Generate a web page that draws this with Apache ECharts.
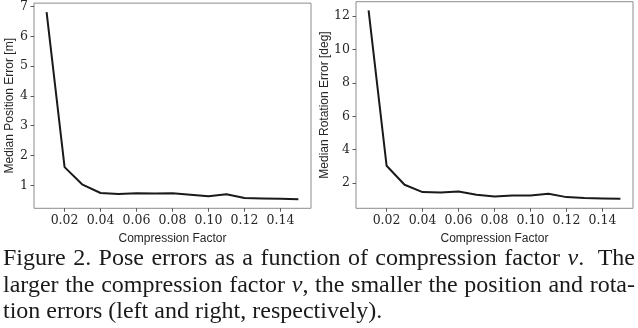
<!DOCTYPE html>
<html><head><meta charset="utf-8">
<script src="https://cdn.jsdelivr.net/npm/echarts@6/dist/echarts.min.js"></script>
<style>html,body{margin:0;padding:0;background:#fff}#c{width:638px;height:328px}</style>
</head><body><div id="c"></div>
<script>
const xValues = [0.01,0.02,0.03,0.04,0.05,0.06,0.07,0.08,0.09,0.10,0.11,0.12,0.13,0.14,0.15];
const positionError = [6.81,1.61,1.02,0.74,0.71,0.73,0.72,0.73,0.68,0.63,0.70,0.57,0.56,0.55,0.53];
const rotationError = [12.34,3.04,1.90,1.46,1.44,1.50,1.30,1.20,1.26,1.26,1.36,1.16,1.10,1.08,1.06];
const xTicks = [0.02,0.04,0.06,0.08,0.10,0.12,0.14];
const posTicks = [1,2,3,4,5,6,7];
const rotTicks = [2,4,6,8,10,12];
const xLabel = 'Compression Factor';
const posLabel = 'Median Position Error [m]';
const rotLabel = 'Median Rotation Error [deg]';
const captionLines = [
  'Figure 2. Pose errors as a function of compression factor ν.  The',
  'larger the compression factor ν, the smaller the position and rota-',
  'tion errors (left and right, respectively).'
];

const chart = echarts.init(document.getElementById('c'), null, {renderer:'canvas'});
const tickFont = {fontFamily:'DejaVu Serif', fontSize:12.5, color:'#262626'};
const titleFont = {fontFamily:'Liberation Sans', fontSize:12, color:'#262626'};

function xAxis(gi){
  return {type:'value', gridIndex:gi, min:0.003, max:0.157,
    axisLine:{show:false}, splitLine:{show:false},
    axisTick:{show:true, customValues:xTicks, length:3.5, lineStyle:{color:'#333', width:0.8}},
    axisLabel:Object.assign({customValues:xTicks, margin:6, formatter:v=>v.toFixed(2)}, tickFont),
    name:xLabel, nameLocation:'middle', nameGap:24, nameTextStyle:titleFont};
}
function yAxis(gi, min, max, ticks, name){
  return {type:'value', gridIndex:gi, min:min, max:max,
    axisLine:{show:false}, splitLine:{show:false},
    axisTick:{show:true, customValues:ticks, length:3.5, lineStyle:{color:'#333', width:0.8}},
    axisLabel:Object.assign({customValues:ticks, margin:6, formatter:v=>String(v)}, tickFont),
    name:name, nameLocation:'middle', nameGap: gi===0?16:24, nameTextStyle:titleFont};
}

// justified caption
const capFont = 24;
const cv = document.createElement('canvas').getContext('2d');
function segs(word){
  const out=[]; let cur='';
  for (const ch of word){ if(ch==='ν'){ if(cur) out.push([cur,false]); out.push([ch,true]); cur=''; } else cur+=ch; }
  if(cur) out.push([cur,false]);
  return out;
}
function fontStr(it){ return (it?'italic ':'')+capFont+'px "Liberation Serif"'; }
function measure(s, it){ cv.font = fontStr(it); return cv.measureText(s).width; }
const graphics = [];
function layoutLine(line, baseline, x0, x1, justify){
  const toks = line.split(' ');
  const words=[]; const extra=[]; let pending=0;
  for(const t of toks){ if(t===''){pending++; continue;} words.push(t); extra.push(pending); pending=0; }
  const spaceW = measure(' ', false);
  const ws = words.map(w=>segs(w).reduce((a,s)=>a+measure(s[0],s[1]),0));
  let total = ws.reduce((a,b)=>a+b,0);
  let gaps = [];
  for(let i=1;i<words.length;i++){ gaps.push(spaceW*(1+extra[i])); }
  let natural = total + gaps.reduce((a,b)=>a+b,0);
  let add = justify && gaps.length ? (x1-x0-natural)/gaps.length : 0;
  let x = x0;
  words.forEach((w,i)=>{
    if(i>0) x += gaps[i-1]+add;
    for(const s of segs(w)){
      graphics.push({type:'text', x:x, y:baseline, silent:true,
        style:{text:s[0], font:fontStr(s[1]), fill:'#1a1a1a', verticalAlign:'bottom'}});
      x += measure(s[0], s[1]);
    }
  });
}
layoutLine(captionLines[0], 271, 3, 635, true);
layoutLine(captionLines[1], 298, 3, 635, true);
layoutLine(captionLines[2], 324, 3, 635, false);

chart.setOption({
  animation:false,
  backgroundColor:'#fff',
  grid:[
    {left:34, right:327, top:2.5, bottom:119.7, show:true, borderColor:'#8c8c8c', borderWidth:1},
    {left:356, right:5, top:1.7, bottom:119.7, show:true, borderColor:'#8c8c8c', borderWidth:1}
  ],
  xAxis:[xAxis(0), xAxis(1)],
  yAxis:[yAxis(0,0.227,7.113,posTicks,posLabel), yAxis(1,0.49,12.86,rotTicks,rotLabel)],
  series:[
    {type:'line', xAxisIndex:0, yAxisIndex:0, data:xValues.map((x,i)=>[x,positionError[i]]),
      showSymbol:false, lineStyle:{color:'#1a1a1a', width:2}},
    {type:'line', xAxisIndex:1, yAxisIndex:1, data:xValues.map((x,i)=>[x,rotationError[i]]),
      showSymbol:false, lineStyle:{color:'#1a1a1a', width:2}}
  ],
  graphic: graphics
});
</script></body></html>
